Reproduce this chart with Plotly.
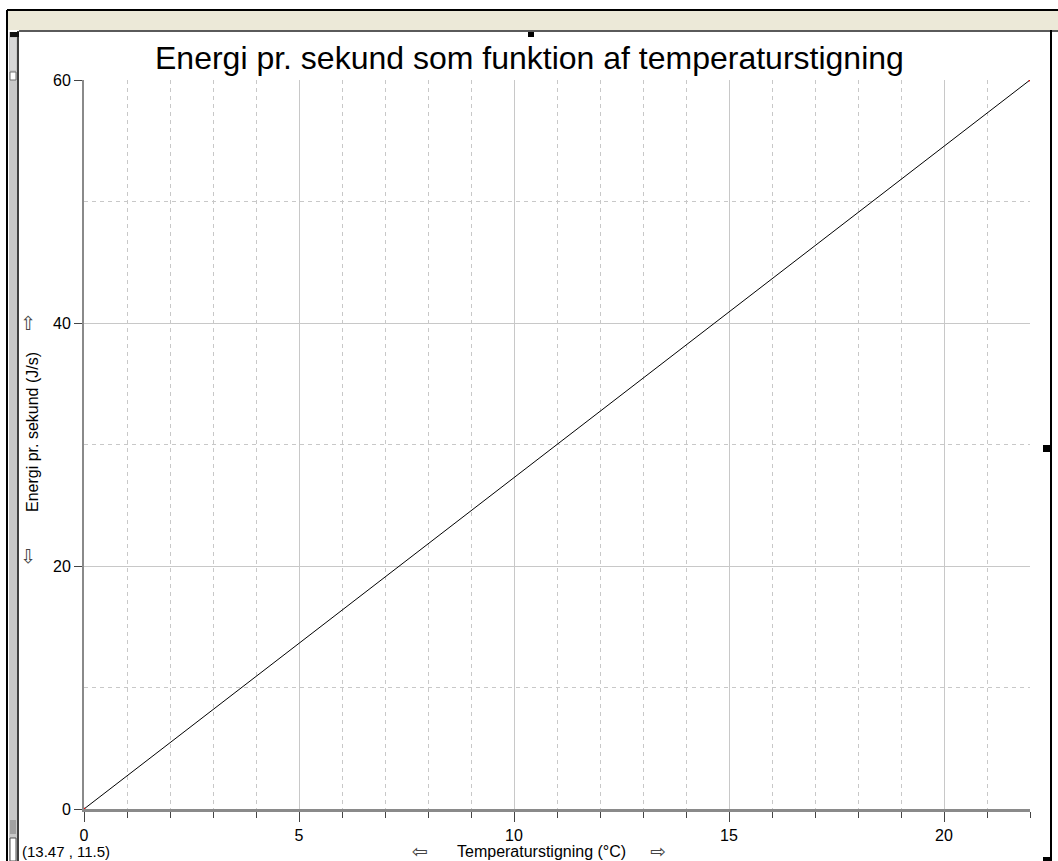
import plotly.graph_objects as go

# ---- data ----
temp_rise = [0, 22]          # Temperaturstigning (°C)
energy_per_sec = [0, 60]     # Energi pr. sekund (J/s)
x_ticks = [0, 5, 10, 15, 20]
y_ticks = [0, 20, 40, 60]
title_text = "Energi pr. sekund som funktion af temperaturstigning"
x_label = "Temperaturstigning (°C)"
y_label = "Energi pr. sekund (J/s)"
coord_text = "(13.47 , 11.5)"

W, H = 1058, 861
L, R, T, B = 84, 1030, 80, 809   # plot area in pixels


def px(x):
    return (x - L) / (R - L)


def py(y):
    return (B - y) / (B - T)


NARROW = "Liberation Sans Narrow, Arial Narrow, Liberation Sans, Arial, sans-serif"
SANS = "Liberation Sans, Arial, sans-serif"
GRID = "#c8c8c8"
AXIS = "#8a8a8a"

fig = go.Figure()
fig.add_trace(go.Scatter(
    x=temp_rise, y=energy_per_sec, mode="lines",
    line=dict(color="black", width=1), hoverinfo="skip", showlegend=False,
))
fig.add_trace(go.Scatter(
    x=temp_rise, y=energy_per_sec, mode="markers",
    marker=dict(color="#e00000", size=3), hoverinfo="skip", showlegend=False,
))

shapes = []


def rect(x0, y0, x1, y1, fill, line_color=None, lw=0):
    shapes.append(dict(type="rect", xref="paper", yref="paper",
                       x0=px(x0), x1=px(x1), y0=py(y0), y1=py(y1),
                       fillcolor=fill, layer="above",
                       line=dict(color=line_color or fill, width=lw)))


def hline(x0, x1, y, color, w):
    shapes.append(dict(type="line", xref="paper", yref="paper",
                       x0=px(x0), x1=px(x1), y0=py(y), y1=py(y),
                       layer="above", line=dict(color=color, width=w)))


def vline(x, y0, y1, color, w):
    shapes.append(dict(type="line", xref="paper", yref="paper",
                       x0=px(x), x1=px(x), y0=py(y0), y1=py(y1),
                       layer="above", line=dict(color=color, width=w)))


# window chrome
rect(8, 11, 1058, 30, "#ece9d8")
hline(7, 1058, 10, "black", 2)
hline(19, 1058, 31, "#5a5a5a", 2)
vline(7, 10, 861, "black", 2)
# left scroll strip
rect(9, 32, 17, 861, "#c8c8c8")
rect(10, 38, 16, 70, "#d8d8d8")
rect(10, 72, 16, 80, "#ffffff", "#707070", 1)
rect(10, 820, 16, 834, "#a0a0a0")
rect(10, 838, 16, 861, "#ffffff", "#505050", 1)
vline(18, 31, 861, "#404040", 2)
rect(10, 32, 19, 37, "#101010")
# right border and handles
vline(1051, 30, 861, "black", 2)
rect(1043, 445, 1051, 452, "black")
rect(1043, 857, 1051, 861, "black")
rect(528, 32, 534, 37, "black")

ARROW_FONT = dict(family="DejaVu Sans", size=19, color="#444")

annotations = [
    dict(text=title_text, x=px(529), y=py(58), xref="paper", yref="paper",
         showarrow=False, font=dict(family=SANS, size=32, color="black"),
         xanchor="center", yanchor="middle"),
    dict(text=y_label, x=px(32), y=py(432), xref="paper", yref="paper",
         textangle=-90, showarrow=False,
         font=dict(family=NARROW, size=16, color="black"),
         xanchor="center", yanchor="middle"),
    dict(text="⇧", x=px(28), y=py(323), xref="paper", yref="paper",
         showarrow=False, font=ARROW_FONT,
         xanchor="center", yanchor="middle"),
    dict(text="⇩", x=px(28), y=py(556), xref="paper", yref="paper",
         showarrow=False, font=ARROW_FONT,
         xanchor="center", yanchor="middle"),
    dict(text=x_label, x=px(541), y=py(852), xref="paper", yref="paper",
         showarrow=False, font=dict(family=NARROW, size=16, color="black"),
         xanchor="center", yanchor="middle"),
    dict(text="⇦", x=px(420), y=py(851), xref="paper", yref="paper",
         showarrow=False, font=ARROW_FONT,
         xanchor="center", yanchor="middle"),
    dict(text="⇨", x=px(658), y=py(851), xref="paper", yref="paper",
         showarrow=False, font=ARROW_FONT,
         xanchor="center", yanchor="middle"),
    dict(text=coord_text, x=px(20), y=py(852), xref="paper", yref="paper",
         showarrow=False, font=dict(family=NARROW, size=15, color="black"),
         xanchor="left", yanchor="middle"),
]

fig.update_layout(
    width=W, height=H,
    margin=dict(l=L, r=W - R, t=T, b=H - B, pad=0),
    paper_bgcolor="white", plot_bgcolor="white",
    shapes=shapes, annotations=annotations,
    showlegend=False,
    xaxis=dict(
        range=[0, 22], tickvals=x_ticks, ticktext=[str(v) for v in x_ticks],
        showgrid=True, gridcolor=GRID, gridwidth=1,
        ticks="outside", ticklen=10, tickcolor="#444", tickwidth=1,
        showline=True, linecolor=AXIS, linewidth=3, mirror=False,
        zeroline=False,
        tickfont=dict(family=NARROW, size=16, color="black"),
        minor=dict(dtick=1, tick0=0, showgrid=True, gridcolor=GRID,
                   griddash="4px,4px", gridwidth=1,
                   ticks="outside", ticklen=6, tickcolor="#444"),
    ),
    yaxis=dict(
        range=[0, 60], tickvals=y_ticks, ticktext=[str(v) for v in y_ticks],
        showgrid=True, gridcolor=GRID, gridwidth=1,
        ticks="outside", ticklen=8, tickcolor="#444", tickwidth=1,
        showline=True, linecolor=AXIS, linewidth=2,
        zeroline=False,
        tickfont=dict(family=NARROW, size=16, color="black"),
        minor=dict(dtick=10, tick0=0, showgrid=True, gridcolor=GRID,
                   griddash="4px,4px", gridwidth=1),
    ),
)

fig.write_html(
    "out.html",
    config={"displayModeBar": False},
    post_script="document.body.style.margin='0';document.body.style.overflow='hidden';",
)
